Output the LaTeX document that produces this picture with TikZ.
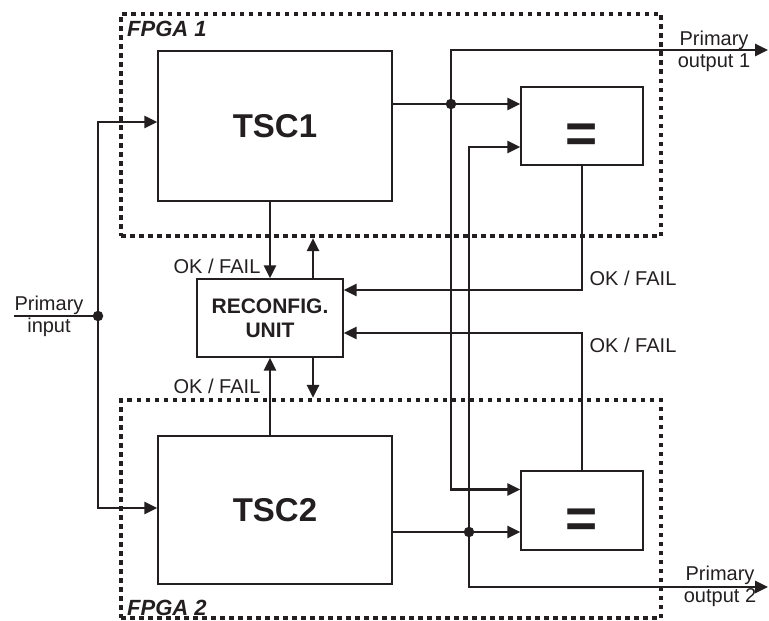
\documentclass[tikz,border=0pt]{standalone}
\usepackage{fontspec}
\setmainfont{Liberation Sans}
\usetikzlibrary{arrows.meta,positioning,calc}
\definecolor{inkdark}{HTML}{231F20}

\begin{document}
\begin{tikzpicture}[x=1pt, y=-1pt, color=inkdark, font=\fontsize{20}{22}\selectfont,
    block/.style={draw, line width=1.3pt, inner sep=0pt},
    cmpbox/.style={block, minimum width=122pt, text height=53pt, text depth=0pt, font=\bfseries\fontsize{55}{55}\selectfont},
    fpgabox/.style={draw, line width=4.2pt, dash pattern=on 4.5pt off 4.5pt, inner sep=0pt},
    wire/.style={line width=2.8pt},
    arr/.style={line width=2.8pt, -{Triangle[length=13pt, width=12pt]}},
    dot/.style={circle, fill, inner sep=0pt, minimum size=10.5pt},
    lbl/.style={inner sep=0pt}]
  \useasboundingbox (0,0) rectangle (769,621);

  \node[fpgabox, minimum width=540pt, minimum height=222pt] (fpga1) at (391,125) {};
  \node[fpgabox, minimum width=540pt, minimum height=218pt] (fpga2) at (391,509) {};
  \node[lbl, anchor=base west, font=\bfseries\itshape\fontsize{22}{24}\selectfont] (fpga1lbl) at (127,36) {FPGA 1};
  \node[lbl, anchor=base west, font=\bfseries\itshape\fontsize{22}{24}\selectfont] (fpga2lbl) at (127,615) {FPGA 2};

  \node[block, minimum width=234pt, minimum height=150pt, font=\bfseries\fontsize{33}{35}\selectfont] (tsc1) at (275,126) {TSC1};
  \node[block, minimum width=234pt, minimum height=148pt, font=\bfseries\fontsize{33}{35}\selectfont] (tsc2) at (275,510) {TSC2};
  \node[cmpbox, minimum height=78pt] (cmp1) at (582,126) {=};
  \node[cmpbox, minimum height=79pt] (cmp2) at (582,510.5) {=};
  \node[block, minimum width=146pt, minimum height=78pt, align=center, font=\bfseries\fontsize{21}{24}\selectfont] (reconf) at (270,318) {RECONFIG.\\UNIT};

  \coordinate (pin) at (14,316);
  \node[dot] (jin) at (98,316) {};
  \node[dot] (j1) at (451,104) {};
  \node[dot] (j2) at (469,532) {};
  \coordinate (pout1) at (768,50);
  \coordinate (pout2) at (768,587);
  \coordinate (rup) at ($(reconf.north)+(43,0)$);
  \coordinate (rdn) at ($(reconf.south)+(43,0)$);

  \draw[wire] (pin) -- (jin.center);
  \draw[arr] (jin.center) |- ($(tsc1.west)+(0,-4)$);
  \draw[arr] (jin.center) |- ($(tsc2.west)+(0,-2)$);

  \draw[wire] (tsc1.east |- j1) -- (j1.center);
  \draw[arr] (j1.center) -- (cmp1.west |- j1);
  \draw[arr] (j1.center) |- (pout1);
  \draw[arr] (j1.center) |- ($(cmp2.west)+(0,-21)$);
  \draw[wire] (tsc2.east |- j2) -- (j2.center);
  \draw[arr] (j2.center) -- (cmp2.west |- j2);
  \draw[arr] (j2.center) |- ($(cmp1.west)+(0,21)$);
  \draw[arr] (j2.center) |- (pout2);

  \draw[arr] (cmp1.south) |- ($(reconf.east)+(0,-28)$);
  \draw[arr] (cmp2.north) |- ($(reconf.east)+(0,15)$);
  \draw[arr] (tsc1.south -| reconf.north) -- (reconf.north);
  \draw[arr] (tsc2.north -| reconf.south) -- (reconf.south);
  \draw[arr] (rup) -- (rup |- fpga1.south);
  \draw[arr] (rdn) -- (rdn |- fpga2.north);

  \node[lbl, anchor=base] (ok1) at (217,273) {OK / FAIL};
  \node[lbl, anchor=base] (ok2) at (217,393) {OK / FAIL};
  \node[lbl, anchor=base] (ok3) at (633,285) {OK / FAIL};
  \node[lbl, anchor=base] (ok4) at (633,352) {OK / FAIL};
  \node[lbl, align=center] (pinlbl) at (49,316) {Primary\\input};
  \node[lbl, align=center] (pout1lbl) at (714,51) {Primary\\output 1};
  \node[lbl, align=center] (pout2lbl) at (720,586) {Primary\\output 2};
\end{tikzpicture}
\end{document}
